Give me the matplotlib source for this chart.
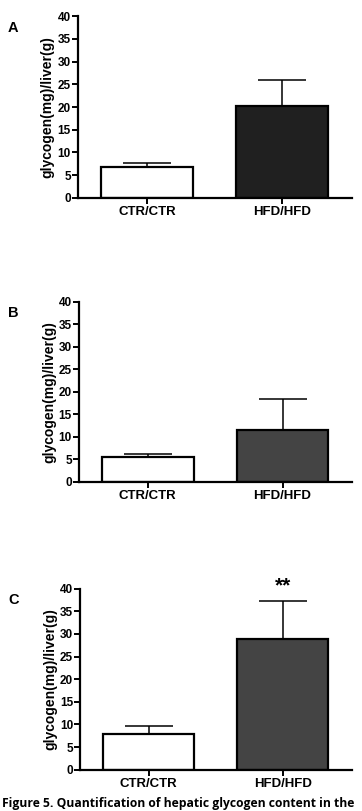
import matplotlib
matplotlib.use("Agg")
import matplotlib.pyplot as plt

plt.rcParams['font.family'] = ['Liberation Sans', 'DejaVu Sans']
plt.rcParams['font.weight'] = 'bold'

groups = ["CTR/CTR", "HFD/HFD"]
panels = ["A", "B", "C"]
means = [[6.7, 20.2], [5.5, 11.6], [7.9, 28.8]]
errors = [[1.0, 5.7], [0.7, 6.7], [1.8, 8.6]]
hfd_colors = ["#202020", "#444444", "#444444"]
yticks = [0, 5, 10, 15, 20, 25, 30, 35, 40]
stars = ["", "", "**"]

# axes boxes in figure fraction [left, bottom, width, height]
boxes = [[0.215, 0.756, 0.757, 0.224],
         [0.218, 0.406, 0.754, 0.222],
         [0.221, 0.051, 0.751, 0.223]]

fig = plt.figure(figsize=(3.62, 8.11), dpi=100)

for k in range(3):
    ax = fig.add_axes(boxes[k])
    x = [0, 1]
    ax.bar(x, means[k], width=0.68, color=["white", hfd_colors[k]],
           edgecolor="black", linewidth=1.6, zorder=2)
    ax.errorbar(x, means[k], yerr=[[0, 0], errors[k]], fmt="none",
                ecolor="black", elinewidth=1.1, capsize=17, capthick=1.1, zorder=1)
    ax.set_ylim(0, 40)
    ax.set_xlim(-0.51, 1.514)
    ax.set_yticks(yticks)
    ax.set_xticks(x)
    ax.set_xticklabels(groups, fontsize=9.5, fontweight="bold")
    ax.tick_params(axis="y", labelsize=8.5, width=1.4, length=4, pad=1)
    ax.tick_params(axis="x", width=1.4, length=4, pad=2)
    for s in ["top", "right"]:
        ax.spines[s].set_visible(False)
    for s in ["left", "bottom"]:
        ax.spines[s].set_linewidth(1.6)
    ax.set_ylabel("glycogen(mg)/liver(g)", fontsize=10, fontweight="bold", labelpad=2)
    fig.text(0.022, boxes[k][1] + boxes[k][3] - 0.014, panels[k],
             fontsize=10.5, fontweight="bold", ha="left", va="center")
    if stars[k]:
        ax.text(1, means[k][1] + errors[k][1] + 1.2, stars[k], ha="center",
                va="bottom", fontsize=15, fontweight="bold")

# figure caption, partly cropped in the source image
fig.text(0.005, 0.001, "Figure 5. Quantification of hepatic glycogen content in the",
         fontsize=8.7, fontweight="bold", family=["Open Sans", "DejaVu Sans"],
         ha="left", va="bottom")

fig.savefig("out.png", dpi=100)
